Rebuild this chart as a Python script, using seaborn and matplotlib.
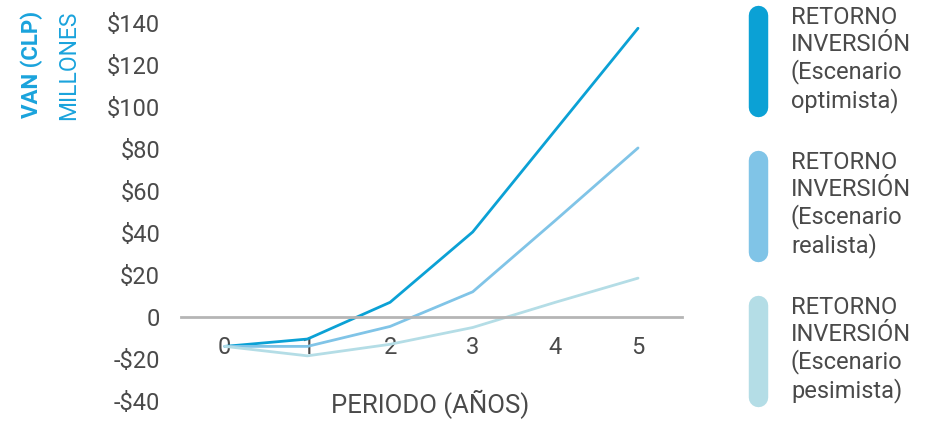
import pandas as pd
import seaborn as sns
import matplotlib.pyplot as plt
from matplotlib.lines import Line2D

# Datos (VAN en millones CLP)
periodos = [0, 1, 2, 3, 4, 5]
optimista = [-14, -10.5, 7, 40.5, 89, 137.5]
realista = [-14, -14, -4.5, 12, 46, 80.5]
pesimista = [-14, -18.5, -13, -5, 7, 18.5]
escenarios = ["optimista", "realista", "pesimista"]
colores = ["#0ba1d5", "#80c4e7", "#b4dde6"]
y_ticks = [-40, -20, 0, 20, 40, 60, 80, 100, 120, 140]
y_labels = ["-$40", "-$20", "0", "$20", "$40", "$60", "$80", "$100", "$120", "$140"]

df = pd.DataFrame({
    "periodo": periodos * 3,
    "van": optimista + realista + pesimista,
    "escenario": [e for e in escenarios for _ in periodos],
})

sns.set_style("white")
plt.rcParams["font.family"] = ["Roboto", "DejaVu Sans"]
gris = "#4a4a4a"

fig = plt.figure(figsize=(9.34, 4.22), dpi=100)
ax = fig.add_axes([0.1938, 0.0498, 0.5362, 0.8957])

sns.lineplot(data=df, x="periodo", y="van", hue="escenario", hue_order=escenarios,
             palette=colores, linewidth=2.0, legend=False, ax=ax)

ax.set_xlim(-0.53, 5.53)
ax.set_ylim(-40, 140)
for s in ["top", "right", "left"]:
    ax.spines[s].set_visible(False)
ax.spines["bottom"].set_position(("data", 0))
ax.spines["bottom"].set_color("#b5b5b5")
ax.spines["bottom"].set_linewidth(2)

ax.set_xticks(periodos)
ax.set_xticklabels([str(p) for p in periodos])
ax.tick_params(axis="x", length=0, pad=14, labelsize=17, labelcolor=gris)
ax.set_yticks(y_ticks)
ax.set_yticklabels(y_labels)
ax.tick_params(axis="y", length=0, pad=15, labelsize=17, labelcolor=gris)
ax.set_xlabel("")
ax.set_ylabel("")

fig.text(430 / 934, 1 - 404 / 422, "PERIODO (AÑOS)", ha="center", va="center",
         fontsize=18.5, color=gris)
fig.text(32 / 934, 1 - 11 / 422, "VAN (CLP)", rotation=90, ha="center", va="top",
         fontsize=16, fontweight="bold", color="#1aa3dc")
fig.text(69 / 934, 1 - 11 / 422, "MILLONES", rotation=90, ha="center", va="top",
         fontsize=16.5, color="#1aa3dc")

# Leyenda a la derecha con barras redondeadas
tops = [5, 150, 295]
for top, esc, col in zip(tops, escenarios, colores):
    x = 757.5 / 934
    y0 = 1 - (top + 10) / 422
    y1 = 1 - (top + 102) / 422
    fig.add_artist(Line2D([x, x], [y0, y1], transform=fig.transFigure, color=col,
                          linewidth=14, solid_capstyle="round"))
    fig.text(791 / 934, 1 - (top + 1) / 422,
             "RETORNO\nINVERSIÓN\n(Escenario\n" + esc + ")",
             ha="left", va="top", fontsize=17, color=gris, linespacing=1.2)

fig.savefig("out.png", dpi=100)
